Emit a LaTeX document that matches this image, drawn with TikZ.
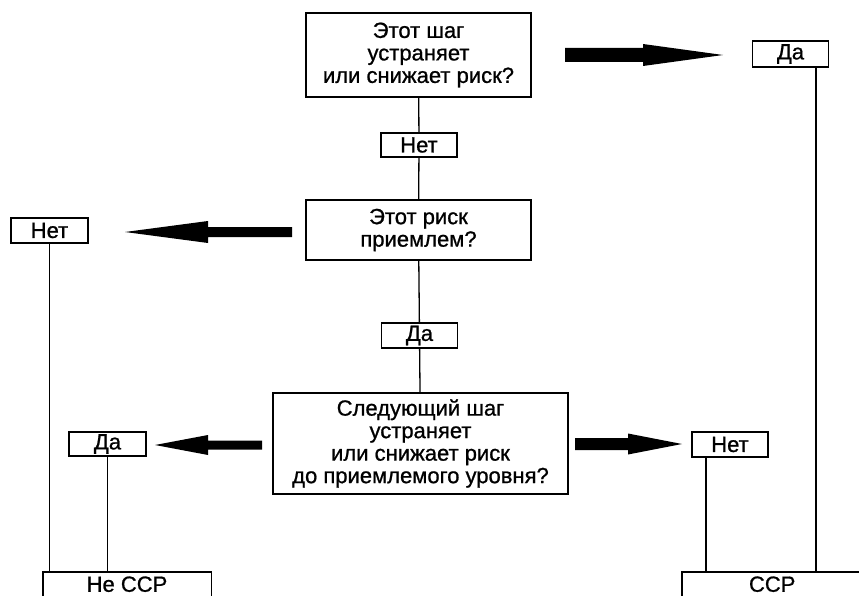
\documentclass[tikz,border=0pt]{standalone}
\usepackage{fontspec}
\setmainfont{Liberation Sans}[BoldFont=Liberation Sans, BoldFeatures={FakeBold=0.9}]
\usetikzlibrary{calc}

% Block arrow: start, head base, tip, half shaft width, half head width
\newcommand{\blockarrow}[5]{%
  \fill ($(#1)+(0,-#4)$) -- ($(#2)+(0,-#4)$) -- ($(#2)+(0,-#5)$) -- (#3)
    -- ($(#2)+(0,#5)$) -- ($(#2)+(0,#4)$) -- ($(#1)+(0,#4)$) -- cycle;}

\begin{document}
\begin{tikzpicture}[x=1pt,y=-1pt,
  question/.style={draw, line width=1.6pt, align=center, inner sep=0pt,
    font=\fontsize{22}{22.5}\selectfont\bfseries},
  answer/.style={draw, line width=1.4pt, inner sep=0pt,
    font=\fontsize{22}{22}\selectfont\bfseries},
  outcome/.style={inner sep=0pt, font=\fontsize{22}{22}\selectfont\bfseries},
  frame/.style={line width=1.4pt},
  link/.style={line width=1.3pt}]

\useasboundingbox (0,0) rectangle (859,596);
\clip (0,0) rectangle (859,596);

% questions
\node[question, minimum width=225pt, minimum height=84pt] (q1) at (418.5,55)
  {Этот шаг\\устраняет\\или снижает риск?};
\node[question, minimum width=225pt, minimum height=60pt] (q2) at (418.5,230)
  {Этот риск\\приемлем?};
\node[question, minimum width=295pt, minimum height=101pt] (q3) at (420.5,443.5)
  {Следующий шаг\\устраняет\\или снижает риск\\до приемлемого уровня?};

% answers
\node[answer, minimum width=76pt, minimum height=24pt] (no1) at (419,145) {Нет};
\node[answer, minimum width=76pt, minimum height=25pt] (yes1) at (419.5,335.5) {Да};
\node[answer, minimum width=76pt, minimum height=26pt] (yes0) at (790.5,54) {Да};
\node[answer, minimum width=77pt, minimum height=25pt] (no2) at (49.5,230.5) {Нет};
\node[answer, minimum width=77pt, minimum height=24pt] (yes2) at (107.5,444) {Да};
\node[answer, minimum width=76pt, minimum height=25pt] (no3) at (730,444.5) {Нет};

% outcomes (open at the bottom edge)
\node[outcome, minimum width=168pt, minimum height=24pt, anchor=north] (notccp) at (127,572) {Не ССР};
\node[outcome, minimum width=180pt, minimum height=24pt, anchor=north west] (ccp) at (682,572) {ССР};
\draw[frame] (notccp.south west) -- (notccp.north west) -- (notccp.north east) -- (notccp.south east);
\draw[frame] (ccp.south west) -- (ccp.north west) -- (ccp.north east);

% main spine
\draw[link] (q1) -- (no1);
\draw[link] (no1) -- (q2);
\draw[link] (q2) -- (yes1);
\draw[link] (yes1) -- (q3);

% drops to outcomes
\draw[link] (no2) -- (no2 |- notccp.north);
\draw[link] (yes2) -- (yes2 |- notccp.north);
\coordinate (r1) at (706,572);
\coordinate (r2) at (816,572);
\draw[link] (no3.south -| r1) -- (r1);
\draw[link] (yes0.south -| r2) -- (r2);

% block arrows
\coordinate (a1s) at (565,55);  \coordinate (a1b) at (643,55);  \coordinate (a1t) at (723,55);
\coordinate (a2s) at (292,232); \coordinate (a2b) at (208,232); \coordinate (a2t) at (125,232);
\coordinate (a3s) at (262,445); \coordinate (a3b) at (208,445); \coordinate (a3t) at (155,445);
\coordinate (a4s) at (575,444); \coordinate (a4b) at (628,444); \coordinate (a4t) at (682,444);
\blockarrow{a1s}{a1b}{a1t}{7}{11}
\blockarrow{a2s}{a2b}{a2t}{5}{11}
\blockarrow{a3s}{a3b}{a3t}{4.5}{10}
\blockarrow{a4s}{a4b}{a4t}{6}{10.5}
\end{tikzpicture}
\end{document}
